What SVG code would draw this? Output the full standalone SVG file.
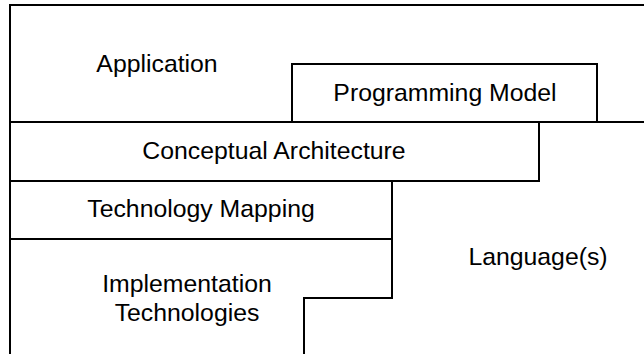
<svg xmlns="http://www.w3.org/2000/svg" width="644" height="354" viewBox="0 0 644 354">
  <style>
    .ln { fill: none; stroke: #000; stroke-width: 2; stroke-linecap: square; stroke-linejoin: miter; }
    .box { fill: #fff; stroke: #000; stroke-width: 2; }
    .lbl { font-family: "Liberation Sans", Arial, sans-serif; font-size: 24.8px; fill: #000; text-anchor: middle; }
  </style>
  <rect x="0" y="0" width="644" height="354" fill="#fff"/>
  <g id="application">
    <path class="ln" d="M645,5 H10 V122 H645"/>
    <text class="lbl" x="157" y="72">Application</text>
  </g>
  <g id="programming-model">
    <rect class="box" x="292" y="64" width="305" height="58"/>
    <text class="lbl" x="445" y="101">Programming Model</text>
  </g>
  <g id="conceptual-architecture">
    <path class="ln" d="M10,122 V181 H539 V122"/>
    <text class="lbl" x="274" y="159">Conceptual Architecture</text>
  </g>
  <g id="technology-mapping">
    <path class="ln" d="M10,181 V239 H392 V181"/>
    <text class="lbl" x="201" y="217">Technology Mapping</text>
  </g>
  <g id="implementation-technologies">
    <path class="ln" d="M10,239 V355 M304,355 V298 H392 V239"/>
    <text class="lbl" x="187" y="292">Implementation</text>
    <text class="lbl" x="187" y="321">Technologies</text>
  </g>
  <g id="languages">
    <text class="lbl" x="538" y="265">Language(s)</text>
  </g>
  <g id="connectors"/>
</svg>
